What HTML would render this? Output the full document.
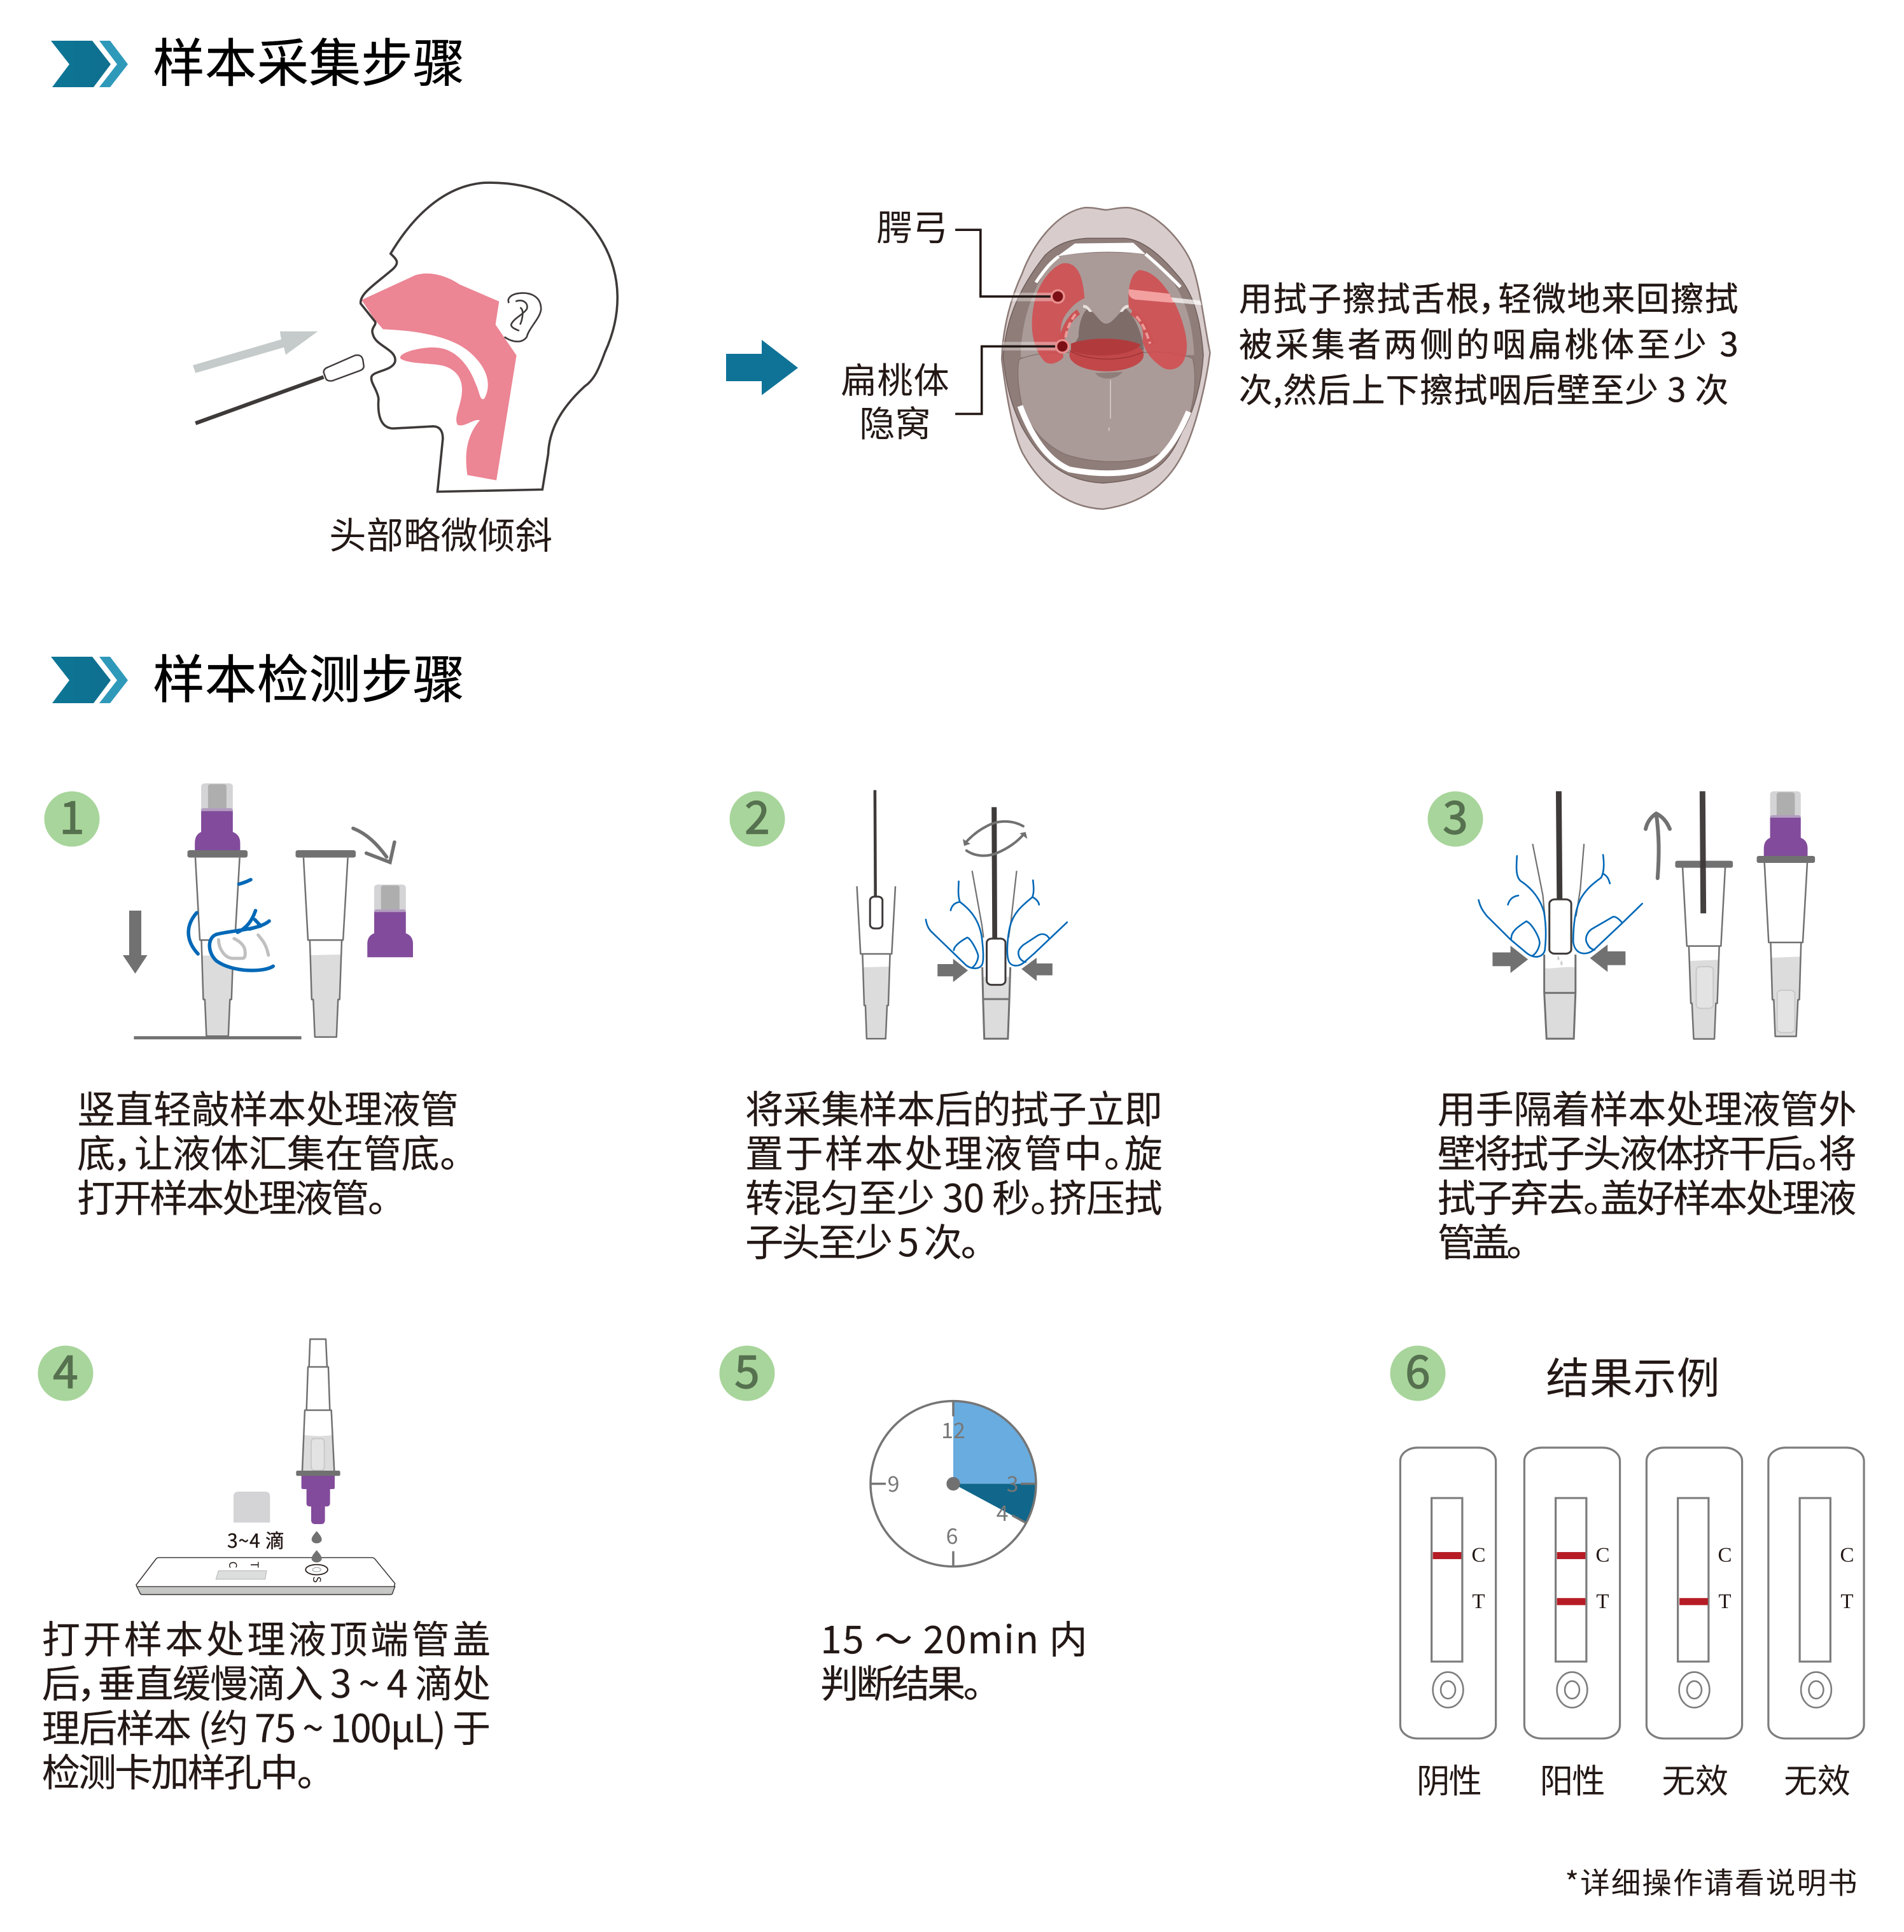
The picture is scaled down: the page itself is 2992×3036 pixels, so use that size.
<!DOCTYPE html>
<html><head><meta charset="utf-8">
<style>
html,body{margin:0;padding:0;background:#fff;width:2992px;height:3036px;overflow:hidden}
svg{display:block}
svg *{vector-effect:non-scaling-stroke}
text{font-family:"Noto Sans CJK SC","Liberation Sans",sans-serif;fill:#231815;vector-effect:none;font-feature-settings:"palt"}
.o{fill:none;stroke:#727171;stroke-width:2.5;stroke-linejoin:round}
.b{fill:none;stroke:#0068b7;stroke-width:2.6;stroke-linecap:round;stroke-linejoin:round}
.bk{fill:none;stroke:#0068b7;stroke-width:5.5;stroke-linecap:round;stroke-linejoin:round}
.lq{fill:#dcdcdc}
.g{fill:#727171}
.p{fill:#824b9b}
.r{fill:#3e3a39}
.sw{fill:#fff;stroke:#3e3a39;stroke-width:3}
.t{font-size:31px}
.t text{stroke:#231815;stroke-width:.12px}
.c{font-size:34px;fill:#777;text-anchor:middle}
.rs{font-family:"Liberation Serif",serif;font-size:33px;text-anchor:middle}
.ca{fill:none;stroke:#757575;stroke-width:3.5}
.d{font-size:71px;fill:#56714f;text-anchor:middle;stroke:#56714f;stroke-width:1.5px}
</style></head><body>
<svg width="2992" height="3036" viewBox="0 0 2992 3036" xmlns="http://www.w3.org/2000/svg">
<defs>
<linearGradient id="cg" x1="0" y1="0" x2="1" y2="0"><stop offset="0" stop-color="#0d7696"/><stop offset="1" stop-color="#0f6f8f"/></linearGradient>
<g id="chev">
<polygon points="80,64 145,64 174,101 147,137 82,137 109,101" fill="url(#cg)"/>
<polygon points="156,64 173,64 201,101 173,137 156,137 184,101" fill="#2f99ba"/>
</g>
</defs>
<rect width="2992" height="3036" fill="#fff"/>

<!-- headers -->
<use href="#chev"/>
<use href="#chev" y="968"/>

<!-- head -->
<g transform="translate(0,200) scale(.7015,.4845)">
<path d="M810 560 L930 480 C960 465 1000 480 1030 510 L1118 565 L1110 640 L1157 740 L1112 1145 L1047 1128 C1040 1060 1045 1000 1075 950 C1060 945 1040 975 1025 965 C1015 940 1035 900 1035 850 C1035 800 1010 775 980 770 C950 765 910 765 897 750 C890 730 950 710 980 715 C1020 720 1050 770 1065 830 C1075 860 1075 890 1085 880 C1100 840 1095 790 1060 740 C1020 680 940 660 858 655 L840 625 Z" fill="#ec8594"/>
<path d="M875 410 C920 300 990 190 1085 180 C1200 175 1290 240 1340 350 C1400 480 1390 620 1355 730 C1340 790 1330 820 1310 840 C1250 920 1230 990 1228 1060 L1215 1175 L980 1182 L992 1010 C992 985 985 970 970 970 L880 977 C855 975 845 940 848 880 C845 850 830 830 832 810 C835 790 880 790 885 760 C890 720 840 710 835 670 C830 650 845 640 840 630 L808 572 C805 540 840 510 880 460 C895 440 890 430 875 410 Z" fill="none" stroke="#3e3a39" stroke-width="3.6"/>
<path d="M1130 680 C1150 700 1170 700 1180 680 C1185 650 1210 620 1212 590 C1212 550 1190 535 1165 538 C1145 540 1135 555 1140 570 M1155 565 C1170 555 1185 570 1180 590 C1170 610 1150 620 1145 640 C1145 650 1155 655 1163 660 M1165 585 C1175 590 1170 625 1165 640" fill="none" stroke="#3e3a39" stroke-width="2.6"/>
<polygon points="432,772 630,688 627,662 712,662 640,738 636,714 438,797" fill="#c5cbca"/>
<line x1="438" y1="960" x2="725" y2="810" stroke="#3e3a39" stroke-width="6"/>
<path d="M735 778 L795 740 Q810 735 813 755 L815 775 Q815 785 805 790 L745 822 Q733 825 730 815 L725 795 Q725 783 735 778 Z" fill="#fff" stroke="#3e3a39" stroke-width="2.4"/>
</g>

<!-- arrow -->
<polygon points="1141,556 1197,556 1197,534 1254,578 1197,621 1197,599 1141,599" fill="#0f7398"/>

<!-- mouth -->
<g transform="translate(1250,280) scale(.4783,.3562)">
<path d="M950 130 C985 128 1000 138 1020 140 C1040 138 1060 128 1095 130 C1190 150 1270 280 1300 370 C1330 480 1340 620 1362 770 C1350 900 1320 1070 1285 1180 C1250 1290 1180 1430 1010 1460 C870 1450 790 1320 745 1210 C710 1110 690 930 678 800 C680 660 710 520 745 420 C780 290 860 150 950 130 Z" fill="#d8cdcc" stroke="#8c7a76" stroke-width="2.5"/>
<path d="M820 340 C860 290 900 270 960 265 H1080 C1140 270 1200 340 1250 420 C1300 490 1330 600 1340 780 C1335 900 1310 1030 1270 1120 C1230 1240 1190 1330 1010 1345 C860 1335 790 1210 745 1100 C700 980 690 880 682 790 C690 650 720 510 820 340 Z" fill="#8f7d79" stroke="#6f5e5b" stroke-width="1.5"/>
<path d="M918 288 L1110 285 L1150 335 C1060 320 960 320 860 345 Z" fill="#fff"/>
<path d="M860 345 C930 325 1080 325 1150 335 C1230 420 1300 520 1310 780 L740 790 C740 620 790 440 860 345 Z" fill="#aa9b98"/>
<path d="M790 460 C820 400 840 370 865 345 M1150 335 C1190 380 1225 425 1265 480" fill="none" stroke="#fff" stroke-width="5"/>
<path d="M930 700 C930 640 945 590 960 575 C985 590 1000 640 1020 642 C1045 640 1060 590 1085 575 C1110 600 1140 680 1145 760 L905 760 Z" fill="#7e6c69"/>
<path d="M945 560 Q960 555 975 590 L965 590 Q955 570 945 572 Z M1095 560 Q1080 555 1065 590 L1075 590 Q1085 570 1095 572 Z" fill="#e8e0de"/>
<path d="M735 800 C780 770 880 765 905 770 C950 830 1080 830 1145 770 C1200 760 1270 775 1305 795 C1320 880 1310 1000 1285 1080 C1250 1180 1210 1225 1130 1240 C1050 1260 960 1250 890 1220 C820 1180 770 1100 745 1010 C735 940 725 860 735 800 Z" fill="#ab9b98" stroke="#7f6e6a" stroke-width="1.2"/>
<path d="M738 1005 C770 1120 820 1240 900 1285 C980 1305 1060 1310 1130 1285 C1210 1255 1260 1130 1292 1030" fill="none" stroke="#fff" stroke-width="9"/>
<path d="M985 860 C1000 890 1050 895 1075 855 Z" fill="#8f7d79"/>
<path d="M1035 890 V1060 M1030 1100 V1115" stroke="#d8d0ce" stroke-width="1.5" fill="none"/>
<path d="M880 375 C930 370 945 440 950 530 C930 540 900 570 880 620 C860 680 880 750 880 790 C870 810 830 840 810 795 C770 720 770 620 790 520 C810 440 850 385 880 375 Z" fill="#d34a4e" opacity=".85"/>
<path d="M1130 405 C1180 410 1220 480 1250 560 C1280 650 1295 740 1280 790 C1270 840 1230 860 1200 830 C1160 790 1150 760 1140 720 C1150 660 1120 600 1095 570 C1090 490 1100 420 1130 405 Z" fill="#d34a4e" opacity=".85"/>
<path d="M930 590 C895 620 880 680 870 730" fill="none" stroke="#cc5254" stroke-width="9"/>
<path d="M1105 590 C1140 620 1160 680 1170 735" fill="none" stroke="#cc5254" stroke-width="9"/>
<path d="M920 600 C900 635 888 680 885 725" fill="none" stroke="#ec9a99" stroke-width="4" stroke-dasharray="10 5"/>
<path d="M1120 610 C1145 645 1155 690 1165 730" fill="none" stroke="#ec9a99" stroke-width="4" stroke-dasharray="10 5"/>
<ellipse cx="1022" cy="780" rx="122" ry="72" fill="#c14749"/>
<path d="M905 730 C960 700 1080 700 1135 735 C1100 790 960 795 905 760 Z" fill="#b13b3c"/>
<path d="M900 760 C960 810 1080 810 1145 765" fill="none" stroke="#8e2c2c" stroke-width="1"/>
<path d="M1095 505 L1330 540 L1335 560 L1110 530 Z" fill="#fff" opacity=".7"/>
<path d="M1095 490 L1230 510 L1240 550 L1115 535 Q1090 525 1095 490 Z" fill="#f3a0a0"/>
<rect x="690" y="505" width="170" height="38" fill="#fff" opacity=".35"/>
<rect x="680" y="722" width="190" height="38" fill="#fff" opacity=".35"/>
<path d="M525 228 H608 V522 H860" fill="none" stroke="#231815" stroke-width="3.6"/>
<path d="M525 1040 H612 V742 H875" fill="none" stroke="#231815" stroke-width="3.6"/>
<ellipse cx="862" cy="522" rx="24" ry="32" fill="#e9908f"/>
<ellipse cx="877" cy="742" rx="24" ry="32" fill="#e9908f"/>
<ellipse cx="862" cy="522" rx="17" ry="23" fill="#7b0f15"/>
<ellipse cx="877" cy="742" rx="17" ry="23" fill="#7b0f15"/>
</g>

<!-- step 1 -->
<g transform="translate(50,1200) scale(.4145,.3333)">
<rect x="642" y="93" width="120" height="135" rx="14" fill="#d4d3d6"/>
<rect x="668" y="97" width="70" height="125" rx="10" fill="#afaeae"/>
<rect x="642" y="210" width="120" height="20" rx="8" fill="#b29dc0"/>
<path class="p" d="M642 224 H762 V322 Q790 335 790 375 V412 H618 V375 Q618 335 642 322 Z"/>
<path class="lq" d="M645 905 L760 905 L755 1110 L750 1112 L745 1285 L664 1285 L656 1112 L650 1110 Z"/>
<path class="o" d="M620 443 L637 832 H770 L788 443 M643 832 L650 1112 H656 L662 1285 H745 L751 1112 H757 L765 832"/>
<rect class="g" x="590" y="408" width="228" height="35" rx="9"/>
<rect class="g" x="387" y="1285" width="635" height="15"/>
<rect class="g" x="369" y="693" width="46" height="212"/>
<polygon class="g" points="345,903 438,903 392,990"/>
<path class="lq" d="M1057 903 L1172 900 L1168 1110 L1162 1112 L1155 1288 L1073 1288 L1066 1112 L1060 1110 Z"/>
<path class="o" d="M1030 443 L1047 832 H1180 L1198 443 M1054 832 L1061 1112 H1067 L1073 1289 H1155 L1161 1112 H1167 L1175 832"/>
<rect class="g" x="1000" y="408" width="228" height="35" rx="9"/>
<rect x="1298" y="570" width="120" height="135" rx="14" fill="#d4d3d6"/>
<rect x="1324" y="574" width="70" height="125" rx="10" fill="#afaeae"/>
<rect x="1298" y="687" width="120" height="20" rx="8" fill="#b29dc0"/>
<path class="p" d="M1298 700 H1418 V800 Q1445 812 1445 850 V913 H1272 V850 Q1272 812 1298 800 Z"/>
<path d="M1218 305 C1270 330 1310 380 1345 440 M1268 422 L1358 465 L1375 370" fill="none" stroke="#727171" stroke-width="5.5" stroke-linecap="round"/>
<path class="bk" d="M915 955 C880 985 760 985 700 930 C665 890 665 820 700 805 C760 785 860 785 900 742" style="fill:#fff"/>
<path class="bk" d="M785 568 Q810 560 830 547 M625 703 C585 760 580 830 630 897 M848 693 C835 740 815 775 780 795 M845 735 L868 765 L825 780"/>
<path d="M708 830 C708 870 730 915 760 918 H800 Q812 915 808 880 C805 855 785 835 767 825 M858 808 C880 840 890 860 897 903" fill="none" stroke="#c0c0c0" stroke-width="5" stroke-linecap="round"/>
</g>

<!-- step 2 -->
<g transform="translate(1120,1200) scale(.3827,.3333)">
<path class="lq" d="M618 960 L725 957 L721 1140 L716 1140 L710 1297 H632 L627 1140 H622 Z"/>
<path class="o" d="M592 578 L607 897 H735 L750 578 M615 897 L622 1140 H627 L632 1297 H710 L716 1140 H721 L728 897"/>
<polygon class="r" points="660,125 672,125 674,627 662,627"/>
<rect class="sw" x="646" y="627" width="51" height="150" rx="18"/>
<path d="M1110 1005 H1220 V1110 L1216 1297 H1115 L1110 1110 Z" class="lq"/>
<path d="M1065 505 L1105 760 L1112 820 M1248 505 L1225 740 L1215 820" fill="none" stroke="#727171" stroke-width="2.2"/>
<path d="M1107 960 L1110 1110 L1115 1297 H1212 L1218 1110 L1222 960 M1108 1110 H1220" fill="none" stroke="#727171" stroke-width="3"/>
<polygon class="r" points="1145,205 1166,205 1168,825 1148,825"/>
<rect class="sw" x="1125" y="825" width="77" height="218" rx="20"/>
<path class="b" d="M875 735 C880 770 890 785 905 800 L1040 950 C1055 965 1090 975 1105 950 C1115 930 1110 870 1105 820 C1095 740 1060 690 1015 652 C1005 620 1010 580 1010 555 M1015 652 C990 655 980 675 977 692 M990 880 C990 860 1020 835 1045 820 C1060 825 1085 880 1090 905 C1090 925 1080 950 1065 962"/>
<path class="b" d="M1455 748 L1320 895 L1285 930 C1260 960 1225 960 1215 930 C1205 900 1210 820 1220 770 C1235 700 1275 665 1312 630 C1320 610 1318 580 1315 550 M1315 630 C1330 640 1338 650 1340 665 M1382 825 C1370 800 1350 800 1335 810 L1275 855 C1255 875 1250 890 1260 915 C1265 925 1275 935 1285 935"/>
<path class="g" d="M923 945 H987 V920 L1048 975 L987 1030 V1003 H923 Z"/>
<path class="g" d="M1268 968 L1330 915 V942 H1395 V998 H1330 V1025 Z"/>
<path d="M1042 410 C1080 440 1130 440 1170 420 C1210 400 1250 370 1275 335 M1275 295 C1230 265 1170 265 1125 295 C1090 315 1060 345 1040 370" fill="none" stroke="#727171" stroke-width="4" stroke-linecap="round"/>
<polygon class="g" points="1260,328 1285,322 1292,355"/>
<polygon class="g" points="1027,355 1058,378 1032,388"/>
</g>

<!-- step 3 -->
<g transform="translate(2220,1200) scale(.4464,.3333)">
<path class="lq" d="M467 965 C490 968 530 955 572 960 V1080 L567 1297 H472 L467 1080 Z"/>
<path d="M422 378 L458 620 L465 720 M603 378 L590 590 L575 720" fill="none" stroke="#727171" stroke-width="2.2"/>
<path d="M463 900 V1080 L471 1297 H567 L573 1080 V900 M464 1081 H574" fill="none" stroke="#727171" stroke-width="3"/>
<polygon class="r" points="504,130 524,130 527,640 507,640"/>
<rect class="sw" x="481" y="640" width="77" height="256" rx="20"/>
<path d="M512 905 Q505 922 513 928 Q521 922 512 905 Z M523 928 Q516 945 524 952 Q532 945 523 928 Z" fill="#cfcfcf"/>
<path class="b" d="M232 643 C238 680 250 700 262 720 L345 830 L400 892 C430 925 460 910 465 880 C470 820 470 760 462 700 C450 640 420 590 385 558 C360 540 365 480 367 435 M372 622 C352 625 340 642 335 665 M347 825 C345 790 375 765 400 743 C420 755 445 815 447 845 C445 870 435 895 422 905"/>
<path class="b" d="M808 660 L735 755 L640 875 C610 910 570 900 565 840 C565 760 572 690 590 640 C610 590 640 560 663 538 C675 510 674 470 670 430 M672 520 C685 530 690 545 694 565 M737 750 C725 730 715 720 705 722 L630 780 C610 800 605 830 615 850 C620 865 628 875 640 878"/>
<path class="g" d="M281 890 H344 V858 L406 923 L344 987 V955 H281 Z"/>
<path class="g" d="M624 917 L686 853 V885 H749 V950 H686 V982 Z"/>
<path d="M862 540 C868 430 868 340 857 235 M820 308 C825 275 840 250 857 235 C880 250 895 275 905 308" fill="none" stroke="#727171" stroke-width="6" stroke-linecap="round" stroke-linejoin="round"/>
<path class="lq" d="M975 930 L1076 925 L1072 1128 L1067 1130 L1061 1297 H989 L982 1130 L978 1128 Z"/>
<path class="o" d="M950 490 L965 860 H1085 L1100 490 M972 860 L979 1130 H983 L989 1298 H1062 L1067 1130 H1072 L1079 860"/>
<rect x="998" y="957" width="60" height="197" rx="16" fill="#e3e3e3" stroke="#c9c9c9" stroke-width="2"/>
<rect class="g" x="924" y="458" width="203" height="33" rx="8"/>
<polygon class="r" points="1010,130 1030,130 1033,706 1013,706" opacity=".97"/>
<rect x="1258" y="130" width="108" height="130" rx="14" fill="#d4d3d6"/>
<rect x="1281" y="135" width="64" height="120" rx="10" fill="#afaeae"/>
<rect x="1258" y="243" width="108" height="20" rx="8" fill="#b29dc0"/>
<path class="p" d="M1258 255 H1366 V350 Q1390 362 1390 400 V437 H1236 V400 Q1236 362 1258 350 Z"/>
<path class="lq" d="M1262 915 L1364 910 L1360 1113 L1355 1115 L1350 1285 H1276 L1270 1115 L1265 1113 Z"/>
<path class="o" d="M1238 465 L1253 843 H1373 L1389 465 M1260 845 L1266 1113 H1271 L1276 1286 H1350 L1356 1113 H1361 L1367 845"/>
<rect x="1283" y="1068" width="62" height="200" rx="16" fill="#e3e3e3" stroke="#c9c9c9" stroke-width="2"/>
<rect class="g" x="1211" y="435" width="205" height="33" rx="8"/>
</g>

<!-- step 4 -->
<g transform="translate(180,2080) scale(.3333)">
<path d="M102 1232 L195 1110 Q200 1103 210 1103 H1212 Q1222 1103 1228 1110 L1322 1225 L1310 1272 Q1308 1277 1300 1277 H130 Q123 1277 120 1270 Z" fill="#fff" stroke="#3e3a39" stroke-width="1.6"/>
<path d="M105 1240 H1322 L1310 1272 Q1308 1277 1300 1277 H130 Q123 1277 120 1270 Z" fill="#c6c8c6" stroke="#3e3a39" stroke-width="1.4"/>
<polygon points="490,1165 717,1165 710,1205 478,1205" fill="#dcdddd" stroke="#b5b5b5" stroke-width="1"/>
<ellipse cx="953" cy="1160" rx="52" ry="24" fill="#fff" stroke="#231815" stroke-width="1.8"/>
<ellipse cx="953" cy="1160" rx="20" ry="10" fill="#fff" stroke="#999" stroke-width="1"/>
<path d="M561 938 V815 Q561 792 584 792 H710 Q733 792 733 815 V938 Z" fill="#d4d3d6"/>
<path d="M893 525 Q960 535 1028 525 L1035 695 H885 Z" class="lq"/>
<rect x="927" y="542" width="62" height="150" rx="16" fill="#e3e3e3" stroke="#c9c9c9" stroke-width="2"/>
<path class="o" d="M885 695 L897 408 H1022 L1036 695 M905 408 L912 204 H1008 L1015 408 M917 204 L922 73 H996 L1002 204"/>
<path class="p" d="M881 715 H1038 V775 Q1038 780 1030 780 H1016 V845 Q1016 862 1000 862 H992 V925 Q992 945 975 945 H945 Q927 945 927 925 V862 H920 Q905 862 905 845 V780 H890 Q881 780 881 775 Z"/>
<rect class="g" x="856" y="693" width="208" height="25" rx="7"/>
<path d="M953 978 C965 992 977 1005 977 1018 A24 18 0 0 1 929 1018 C929 1005 941 992 953 978 Z" fill="#727171"/>
<path d="M953 1068 C965 1082 977 1095 977 1108 A24 18 0 0 1 929 1108 C929 1095 941 1082 953 1068 Z" fill="#727171"/>
</g>

<!-- clock -->
<g transform="translate(1340,2170) scale(.3333)">
<path d="M474 485 V95 A390 390 0 0 1 864 485 Z" fill="#69acdf"/>
<path d="M474 485 H864 A390 390 0 0 1 818 670 Z" fill="#10668b"/>
<circle cx="474" cy="485" r="390" class="ca"/>
<path d="M474 95 V167 M864 485 H792 M84 485 H156 M474 875 V803 M818 670 L752 634" class="ca"/>
<circle cx="474" cy="485" r="32" fill="#727171"/>
</g>
<text class="c" x="1498" y="2260">12</text>
<text class="c" x="1404" y="2344">9</text>
<text class="c" x="1591" y="2344">3</text>
<text class="c" x="1575" y="2390">4</text>
<text class="c" x="1496" y="2426">6</text>

<!-- results -->
<g transform="translate(2180,2250) scale(.4974,.3825)">
<g id="card">
<rect x="41" y="65" width="302" height="1195" rx="55" fill="#fff" stroke="#7d7d7d" stroke-width="3.2"/>
<rect x="140" y="272" width="97" height="672" fill="#fff" stroke="#7d7d7d" stroke-width="3.2"/>
<ellipse cx="192" cy="1060" rx="48" ry="73" fill="none" stroke="#7d7d7d" stroke-width="2.6"/>
<ellipse cx="192" cy="1060" rx="23" ry="36" fill="none" stroke="#7d7d7d" stroke-width="2.6"/>
</g>
<rect x="144" y="494" width="90" height="29" fill="#b61c25"/>
<use href="#card" x="392"/>
<rect x="536" y="494" width="90" height="29" fill="#b61c25"/>
<rect x="536" y="683" width="90" height="29" fill="#b61c25"/>
<use href="#card" x="778"/>
<rect x="923" y="683" width="90" height="29" fill="#b61c25"/>
<use href="#card" x="1163"/>
</g>
<text class="rs" x="2323.5" y="2454">C</text><text class="rs" x="2323.5" y="2527">T</text>
<text class="rs" x="2518.5" y="2454">C</text><text class="rs" x="2518.5" y="2527">T</text>
<text class="rs" x="2710.5" y="2454">C</text><text class="rs" x="2710.5" y="2527">T</text>
<text class="rs" x="2902.5" y="2454">C</text><text class="rs" x="2902.5" y="2527">T</text>

<!-- small text in step 4 -->
<text x="357" y="2432" font-size="30" style="stroke:#231815;stroke-width:.4px" textLength="90">3~4 滴</text>
<text x="0" y="0" font-size="17" transform="translate(360,2459) rotate(90)" text-anchor="middle">C</text>
<text x="0" y="0" font-size="17" transform="translate(394,2459) rotate(90)" text-anchor="middle">T</text>
<text x="0" y="0" font-size="17" transform="translate(492,2482) rotate(90)" text-anchor="middle">S</text>

<!-- badges -->
<g fill="#a8d59b">
<circle cx="113" cy="1287" r="43.5"/><circle cx="1190" cy="1287" r="43.5"/><circle cx="2287" cy="1287" r="43.5"/>
<circle cx="103" cy="2158" r="43.5"/><circle cx="1174" cy="2158" r="43.5"/><circle cx="2228" cy="2158" r="43.5"/>
</g>
<text class="d" x="113" y="1310">1</text>
<text class="d" x="1190" y="1310">2</text>
<text class="d" x="2287" y="1310">3</text>
<text class="d" x="103" y="2181">4</text>
<text class="d" x="1174" y="2181">5</text>
<text class="d" x="2228" y="2181">6</text>

<!-- text in displayed coords -->
<g transform="scale(1.9373)">
<g style="stroke:#000;stroke-width:.25px">
<text x="124" y="66" font-size="42" style="fill:#000" textLength="253">样本采集步骤</text>
<text x="124" y="566" font-size="42" style="fill:#000" textLength="253">样本检测步骤</text>
</g>
<text x="267" y="445" font-size="30" textLength="181">头部略微倾斜</text>
<text x="711" y="195" font-size="29" textLength="58">腭弓</text>
<text x="682" y="319" font-size="29" textLength="88">扁桃体</text>
<text x="697" y="354" font-size="29" textLength="58">隐窝</text>
<g font-size="27" style="stroke:#231815;stroke-width:.3px">
<text x="1005" y="252" textLength="405">用拭子擦拭舌根，轻微地来回擦拭</text>
<text x="1005" y="289" textLength="405">被采集者两侧的咽扁桃体至少  3</text>
<text x="1005" y="326" textLength="397">次,然后上下擦拭咽后壁至少 3 次</text>
</g>
<g class="t">
<text x="62.5" y="911" textLength="309.5">竖直轻敲样本处理液管</text>
<text x="62.5" y="947" textLength="309.5">底，让液体汇集在管底。</text>
<text x="62.5" y="983" textLength="251">打开样本处理液管。</text>

<text x="604.5" y="911" textLength="338.5">将采集样本后的拭子立即</text>
<text x="604.5" y="947" textLength="338.5">置于样本处理液管中。旋</text>
<text x="604.5" y="983" textLength="338.5">转混匀至少 30 秒。挤压拭</text>
<text x="604.5" y="1019" textLength="190">子头至少 5 次。</text>

<text x="1166" y="911" textLength="340">用手隔着样本处理液管外</text>
<text x="1166" y="947" textLength="340">壁将拭子头液体挤干后。将</text>
<text x="1166" y="983" textLength="340">拭子弃去。盖好样本处理液</text>
<text x="1166" y="1019" textLength="71">管盖。</text>

<text x="34" y="1341" textLength="364">打开样本处理液顶端管盖</text>
<text x="34" y="1377" textLength="364">后，垂直缓慢滴入 3 ~ 4 滴处</text>
<text x="34" y="1413" textLength="364">理后样本 (约 75 ~ 100μL) 于</text>
<text x="34" y="1449" textLength="222">检测卡加样孔中。</text>

<text x="665.5" y="1341" textLength="216.5">15 ～ 20min 内</text>
<text x="665.5" y="1377" textLength="131">判断结果。</text>
</g>
<text x="1254" y="1130.5" font-size="35" textLength="141">结果示例</text>
<text x="1149" y="1454" font-size="27" textLength="53">阴性</text>
<text x="1249" y="1454" font-size="27" textLength="53">阳性</text>
<text x="1348" y="1454" font-size="27" textLength="54">无效</text>
<text x="1447" y="1454" font-size="27" textLength="54">无效</text>
<text x="1269.5" y="1536" font-size="24" textLength="237">*详细操作请看说明书</text>
</g>
</svg>
</body></html>
